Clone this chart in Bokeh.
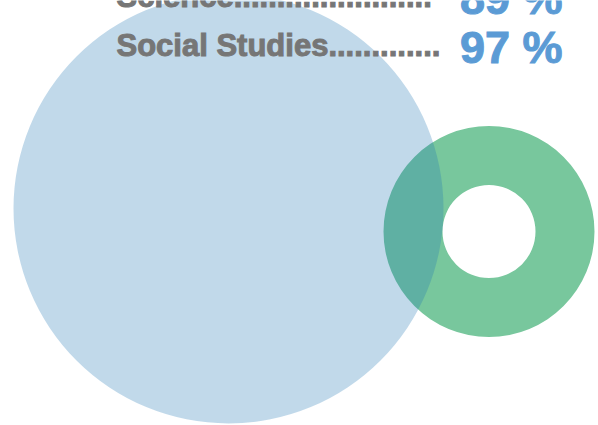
from bokeh.plotting import figure
from bokeh.models import Range1d, ColumnDataSource
from bokeh.core.properties import value
from bokeh.embed import file_html
from bokeh.resources import INLINE

# ---- data ----
subjects = ["Science", "Social Studies"]
leader_dots = [23, 13]
scores = [89, 97]

# ---- layout (picture pixel coordinates, y downwards) ----
W, H = 598, 425
p = figure(width=W, height=H, output_backend="svg", toolbar_location=None,
           x_range=Range1d(0, W), y_range=Range1d(H, 0),
           min_border=0)
p.axis.visible = False
p.grid.visible = False
p.outline_line_color = None
p.background_fill_color = "white"
p.border_fill_color = "white"

# green ring
p.annulus(x=[488.5], y=[231], inner_radius=46.5, outer_radius=105.5,
          fill_color="#78c79d", line_color=None)
# translucent blue disc on top
p.circle(x=[228], y=[208], radius=215, fill_color="#1f77b4",
         fill_alpha=0.28, line_color=None)

row0, row_gap = -4, 48.5
labels = [s + "." * n for s, n in zip(subjects, leader_dots)]
lab_y = [row0 + i * row_gap for i in range(len(subjects))]
val_y = [y + 2 for y in lab_y]
src_l = ColumnDataSource(dict(x=[116] * len(labels), y=lab_y, t=labels))
src_v = ColumnDataSource(dict(x=[562] * len(scores), y=val_y,
                              t=[f"{v} %" for v in scores]))

p.text(x="x", y="y", text="t", source=src_l, text_font=value("Liberation Sans"),
       text_font_style="bold", text_font_size="31px", text_color="#767676",
       text_outline_color="#767676",
       text_align="left", text_baseline="alphabetic")
p.text(x="x", y="y", text="t", source=src_v, text_font=value("Liberation Sans"),
       text_font_style="bold", text_font_size="45px", text_color="#5b9bd5",
       text_outline_color="#5b9bd5",
       text_align="right", text_baseline="alphabetic")

open("out.html", "w").write(file_html(p, INLINE))
